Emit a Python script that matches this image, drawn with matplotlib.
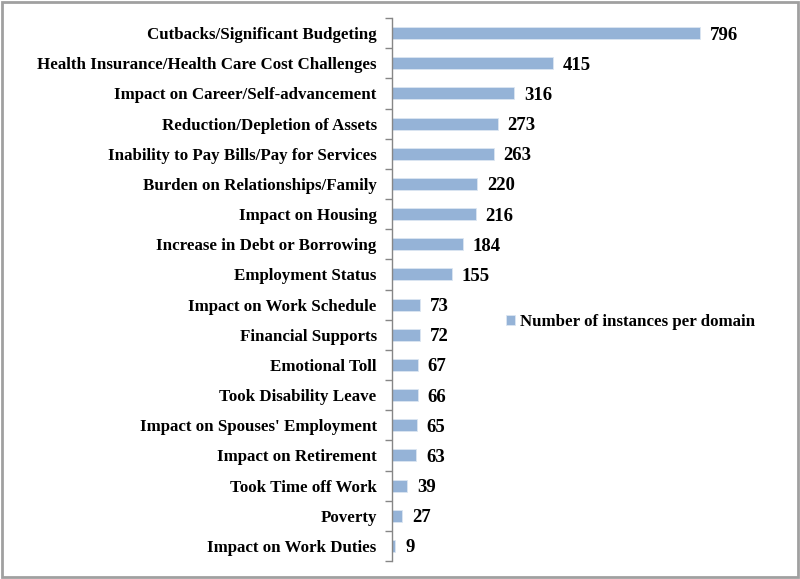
import numpy as np
import matplotlib
matplotlib.use("Agg")
import matplotlib.pyplot as plt
from matplotlib.patches import Rectangle
from matplotlib.transforms import ScaledTranslation

categories = [
    "Cutbacks/Significant Budgeting",
    "Health Insurance/Health Care Cost Challenges",
    "Impact on Career/Self-advancement",
    "Reduction/Depletion of Assets",
    "Inability to Pay Bills/Pay for Services",
    "Burden on Relationships/Family",
    "Impact on Housing",
    "Increase in Debt or Borrowing",
    "Employment Status",
    "Impact on Work Schedule",
    "Financial Supports",
    "Emotional Toll",
    "Took Disability Leave",
    "Impact on Spouses' Employment",
    "Impact on Retirement",
    "Took Time off Work",
    "Poverty",
    "Impact on Work Duties",
]
counts = [796, 415, 316, 273, 263, 220, 216, 184, 155, 73, 72, 67, 66, 65, 63, 39, 27, 9]
series_name = "Number of instances per domain"

plt.rcParams["font.family"] = ["Liberation Serif", "DejaVu Serif"]
plt.rcParams["font.weight"] = "bold"

bar_color = "#95B3D7"

fig = plt.figure(figsize=(8, 5.79), dpi=100)
ax = fig.add_axes([392 / 800, 1 - 561 / 579, 387 / 800, 543 / 579])

n = len(categories)
y = np.arange(n)
ax.barh(y, counts, height=0.4, color=bar_color, edgecolor="#dce6f2", linewidth=0.6,
        label=series_name)
shift = ScaledTranslation(0, -2 / 100, fig.dpi_scale_trans)
for yi, v in zip(y, counts):
    ax.text(v + 25, yi, str(v), va="center", ha="left", fontsize=13.5, fontweight="bold",
            transform=ax.transData + shift)

ax.set_xlim(0, 1000)
ax.set_ylim(n - 0.5, -0.5)
ax.set_yticks(y)
ax.set_yticklabels(categories, fontsize=12.2, fontweight="bold")
ax.tick_params(axis="y", which="major", length=0, pad=11)
ax.set_yticks(np.arange(n + 1) - 0.5, minor=True)
ax.tick_params(axis="y", which="minor", length=5, color="#868686", width=1)
ax.set_xticks([])

for s in ["top", "right", "bottom"]:
    ax.spines[s].set_visible(False)
ax.spines["left"].set_color("#868686")
ax.spines["left"].set_linewidth(1)

leg = ax.legend(loc="center left", bbox_to_anchor=(0.254, 0.44), frameon=False,
                prop={"size": 12.2, "weight": "bold"}, handlelength=0.55, handleheight=0.55,
                handletextpad=0.3)

fig.patches.append(Rectangle((0.002, 0.003), 0.996, 0.994, transform=fig.transFigure,
                             fill=False, edgecolor="#a0a0a0", linewidth=2))

fig.savefig("out.png", dpi=100)
